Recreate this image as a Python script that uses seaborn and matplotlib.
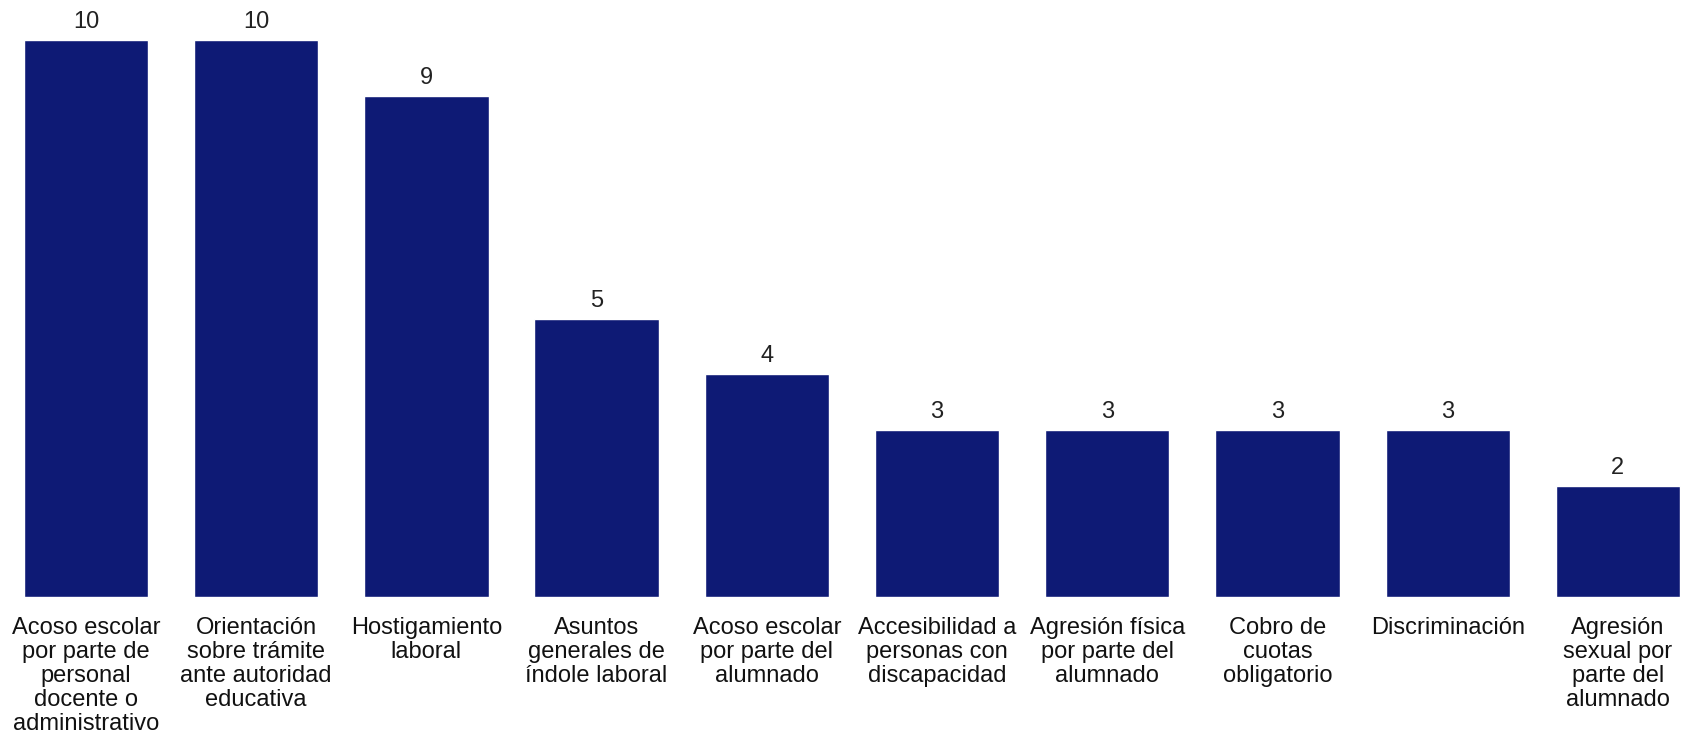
import matplotlib
matplotlib.use('Agg')
import matplotlib.pyplot as plt
import seaborn as sns
import pandas as pd

# datos
categorias = [
    'Acoso escolar\npor parte de\npersonal\ndocente o\nadministrativo',
    'Orientación\nsobre trámite\nante autoridad\neducativa',
    'Hostigamiento\nlaboral',
    'Asuntos\ngenerales de\níndole laboral',
    'Acoso escolar\npor parte del\nalumnado',
    'Accesibilidad a\npersonas con\ndiscapacidad',
    'Agresión física\npor parte del\nalumnado',
    'Cobro de\ncuotas\nobligatorio',
    'Discriminación',
    'Agresión\nsexual por\nparte del\nalumnado',
]
valores = [10, 10, 9, 5, 4, 3, 3, 3, 3, 2]

df = pd.DataFrame({'Categoria': categorias, 'Valor': valores})

sns.set_style('white')
plt.rcParams['font.family'] = ['Liberation Sans', 'DejaVu Sans']

fig = plt.figure(figsize=(16.94, 7.4), dpi=100)
ax = fig.add_axes([0, 0.193, 1, 0.807])

sns.barplot(data=df, x='Categoria', y='Valor', color='#0E1A75',
            saturation=1, width=0.73, ax=ax)

ax.bar_label(ax.containers[0], fmt='%d', padding=5, fontsize=17, color='#222222')

ax.set_xlim(-0.505, 9.447)
ax.set_ylim(0, 10.72)
ax.set_xlabel('')
ax.set_ylabel('')
ax.set_yticks([])
sns.despine(ax=ax, left=True, bottom=True)
ax.tick_params(axis='x', length=0, pad=14, labelsize=17, labelcolor='#111111')
for lbl in ax.get_xticklabels():
    lbl.set_linespacing(1.12)

fig.savefig('out.png', dpi=100)
